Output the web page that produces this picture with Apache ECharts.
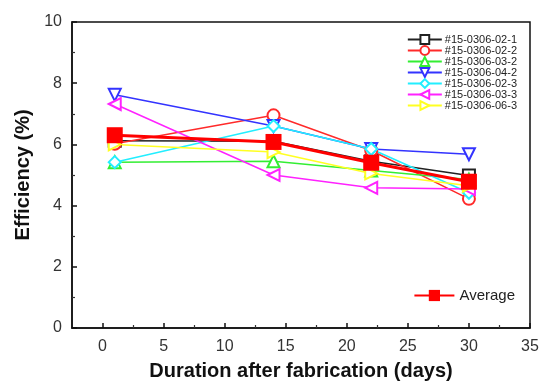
<!DOCTYPE html>
<html>
<head>
<meta charset="utf-8">
<script src="https://cdn.jsdelivr.net/npm/echarts@6/dist/echarts.min.js"></script>
<style>
  html, body { margin: 0; padding: 0; background: #fff; }
  #chart { width: 540px; height: 385px; }
</style>
</head>
<body>
<div id="chart"></div>
<script>
const days = [1, 14, 22, 30]
const sampleNames = ['#15-0306-02-1', '#15-0306-02-2', '#15-0306-03-2', '#15-0306-04-2', '#15-0306-02-3', '#15-0306-03-3', '#15-0306-06-3']
const s0201 = [6.12, 6.1, 5.45, 4.98]
const s0202 = [6.02, 6.95, 5.8, 4.22]
const s0302 = [5.42, 5.45, 5.15, 4.85]
const s0402 = [7.62, 6.6, 5.85, 5.68]
const s0203 = [5.42, 6.6, 5.85, 4.42]
const s0303 = [7.32, 5.0, 4.58, 4.54]
const s0603 = [6.0, 5.75, 5.05, 4.65]
const average = [6.3, 6.08, 5.4, 4.78]
const xMajorTicks = [0, 5, 10, 15, 20, 25, 30, 35]
const xMinorTicks = [2.5, 7.5, 12.5, 17.5, 22.5, 27.5, 32.5]

const sampleData = [s0201, s0202, s0302, s0402, s0203, s0303, s0603]
const colors = ['#222222', '#ff2a2a', '#33ee33', '#3333ff', '#22eeff', '#ff22ff', '#ffff22']
const symbols = ['emptyRect', 'emptyCircle', 'emptyTriangle', 'emptyTriangle', 'emptyDiamond', 'emptyTriangle', 'emptyTriangle']
const rotations = [0, 0, 0, 180, 0, 90, -90]

const chart = echarts.init(document.getElementById('chart'))

const pairs = arr => days.map((d, i) => [d, arr[i]])

const series = sampleNames.map((name, k) => ({
  name,
  type: 'line',
  data: pairs(sampleData[k]),
  symbol: symbols[k],
  symbolRotate: rotations[k],
  symbolSize: 12,
  color: colors[k],
  lineStyle: { width: 1.5, color: colors[k] },
  itemStyle: { borderWidth: 1.2 },
  z: 2,
}))
series.push({
  name: 'Average',
  type: 'line',
  data: pairs(average),
  symbol: 'rect',
  symbolSize: 16,
  color: '#ff0000',
  lineStyle: { width: 3, color: '#ff0000' },
  z: 5,
})
// minor x ticks drawn on a second, invisible axis
series.push({ type: 'line', xAxisIndex: 1, data: [], silent: true })

chart.setOption({
  animation: false,
  textStyle: { fontFamily: 'Liberation Sans, Arial, sans-serif' },
  grid: { left: 72, right: 10, top: 22, bottom: 57, outerBoundsMode: 'none', show: true, borderColor: '#111', borderWidth: 1.5, backgroundColor: 'transparent' },
  legend: [
    {
      data: sampleNames,
      orient: 'vertical',
      right: 18,
      top: 29,
      itemGap: 0,
      itemWidth: 34,
      itemHeight: 11,
      textStyle: { fontSize: 11, color: '#222', padding: [0, 0, 0, -2] },
    },
    {
      data: ['Average'],
      right: 20,
      top: 283,
      itemWidth: 40,
      itemHeight: 14,
      textStyle: { fontSize: 15, color: '#222' },
    },
  ],
  xAxis: [
    {
      type: 'value',
      min: -2.5,
      max: 35,
      name: 'Duration after fabrication (days)',
      nameLocation: 'middle',
      nameGap: 33,
      nameTextStyle: { fontSize: 20, fontWeight: 'bold', color: '#111' },
      axisLine: { show: true, onZero: false, lineStyle: { color: '#111', width: 1.5 } },
      axisTick: { show: true, inside: true, length: 5, customValues: xMajorTicks, lineStyle: { color: '#111', width: 1.5 } },
      axisLabel: { customValues: xMajorTicks, fontSize: 16, color: '#333', margin: 11 },
      splitLine: { show: false },
    },
    {
      type: 'value',
      min: -2.5,
      max: 35,
      position: 'bottom',
      axisLine: { show: false, onZero: false },
      axisTick: { show: true, inside: true, length: 3, customValues: xMinorTicks, lineStyle: { color: '#333', width: 1.2 } },
      axisLabel: { show: false },
      splitLine: { show: false },
    },
  ],
  yAxis: {
    type: 'value',
    min: 0,
    max: 10,
    interval: 2,
    name: 'Efficiency (%)',
    nameLocation: 'middle',
    nameGap: 38,
    nameTextStyle: { fontSize: 20, fontWeight: 'bold', color: '#111' },
    axisLine: { show: true, onZero: false, lineStyle: { color: '#111', width: 1.5 } },
    axisTick: { show: true, inside: true, length: 5, lineStyle: { color: '#111', width: 1.5 } },
    minorTick: { show: true, splitNumber: 2, length: 3, lineStyle: { color: '#333', width: 1.2 } },
    axisLabel: { fontSize: 16, color: '#333', margin: 10 },
    splitLine: { show: false },
  },
  series,
})
</script>
</body>
</html>
